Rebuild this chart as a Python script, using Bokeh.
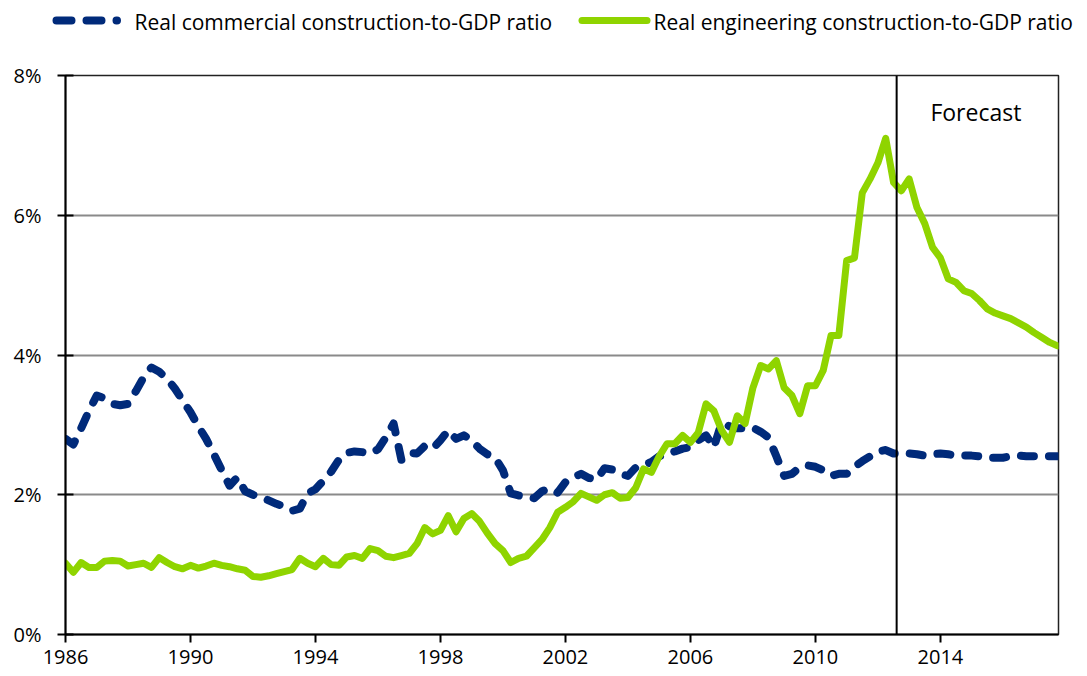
from bokeh.plotting import figure
from bokeh.models import (ColumnDataSource, FixedTicker, PrintfTickFormatter, Span,
                          Label, Range1d)
from bokeh.layouts import column
from bokeh.core.properties import value
from bokeh.embed import file_html
from bokeh.resources import INLINE

# ---------------- data (quarterly, 1986Q1 .. 2017Q4) ----------------
start_year = 1986
commercial = [
    2.80, 2.72, 2.95, 3.20,  # 1986
    3.42, 3.38, 3.30, 3.28,  # 1987
    3.30, 3.48, 3.68, 3.82,  # 1988
    3.76, 3.66, 3.52, 3.35,  # 1989
    3.18, 2.98, 2.80, 2.58,  # 1990
    2.35, 2.13, 2.25, 2.05,  # 1991
    2.00, 1.96, 1.92, 1.87,  # 1992
    1.83, 1.77, 1.80, 2.02,  # 1993
    2.08, 2.20, 2.33, 2.50,  # 1994
    2.60, 2.62, 2.61, 2.59,  # 1995
    2.65, 2.82, 3.02, 2.50,  # 1996
    2.60, 2.59, 2.70, 2.66,  # 1997
    2.78, 2.92, 2.80, 2.85,  # 1998
    2.78, 2.66, 2.58, 2.53,  # 1999
    2.35, 2.02, 1.99, 1.97,  # 2000
    1.95, 2.05, 2.09, 2.03,  # 2001
    2.18, 2.25, 2.30, 2.24,  # 2002
    2.22, 2.38, 2.36, 2.30,  # 2003
    2.27, 2.39, 2.42, 2.47,  # 2004
    2.55, 2.58, 2.62, 2.66,  # 2005
    2.68, 2.78, 2.85, 2.68,  # 2006
    3.03, 2.98, 2.95, 2.95,  # 2007
    2.96, 2.90, 2.82, 2.55,  # 2008
    2.27, 2.30, 2.39, 2.42,  # 2009
    2.40, 2.35, 2.27, 2.30,  # 2010
    2.30, 2.40, 2.48, 2.55,  # 2011
    2.62, 2.64, 2.59, 2.59,  # 2012
    2.59, 2.58, 2.56, 2.58,  # 2013
    2.59, 2.58, 2.56, 2.56,  # 2014
    2.56, 2.55, 2.53, 2.53,  # 2015
    2.53, 2.55, 2.56, 2.55,  # 2016
    2.55, 2.55, 2.55, 2.55,  # 2017
]
engineering = [
    1.02, 0.89, 1.03, 0.96,  # 1986
    0.96, 1.05, 1.06, 1.05,  # 1987
    0.98, 1.00, 1.02, 0.96,  # 1988
    1.10, 1.03, 0.97, 0.94,  # 1989
    0.99, 0.95, 0.98, 1.02,  # 1990
    0.99, 0.97, 0.94, 0.92,  # 1991
    0.83, 0.82, 0.84, 0.87,  # 1992
    0.90, 0.93, 1.09, 1.02,  # 1993
    0.97, 1.09, 1.00, 0.99,  # 1994
    1.11, 1.13, 1.09, 1.23,  # 1995
    1.20, 1.12, 1.10, 1.13,  # 1996
    1.16, 1.30, 1.53, 1.44,  # 1997
    1.49, 1.70, 1.47, 1.66,  # 1998
    1.73, 1.62, 1.45, 1.30,  # 1999
    1.20, 1.03, 1.09, 1.12,  # 2000
    1.24, 1.36, 1.53, 1.75,  # 2001
    1.82, 1.90, 2.02, 1.97,  # 2002
    1.92, 2.00, 2.03, 1.95,  # 2003
    1.96, 2.10, 2.37, 2.32,  # 2004
    2.55, 2.73, 2.73, 2.85,  # 2005
    2.75, 2.89, 3.30, 3.20,  # 2006
    2.92, 2.75, 3.13, 3.02,  # 2007
    3.53, 3.85, 3.80, 3.92,  # 2008
    3.53, 3.42, 3.16, 3.56,  # 2009
    3.56, 3.78, 4.28, 4.28,  # 2010
    5.35, 5.39, 6.32, 6.52,  # 2011
    6.75, 7.10, 6.47, 6.35,  # 2012
    6.52, 6.11, 5.88, 5.54,  # 2013
    5.39, 5.09, 5.04, 4.92,  # 2014
    4.88, 4.78, 4.66, 4.60,  # 2015
    4.56, 4.52, 4.46, 4.40,  # 2016
    4.32, 4.25, 4.18, 4.13,  # 2017
]
years = [start_year + 0.25 * i for i in range(len(commercial))]
x_ticks = [1986, 1990, 1994, 1998, 2002, 2006, 2010, 2014]
y_ticks = [0, 2, 4, 6, 8]
forecast_start = 2012.6
forecast_label = "Forecast"
series_names = ["Real commercial construction-to-GDP ratio",
                "Real engineering construction-to-GDP ratio"]

# ---------------- styling ----------------
FONT = "Open Sans"
NAVY = "#002A7A"
GREEN = "#8FD400"
W = 1087
LEG_H = 36

# ---------------- legend strip (pixel-unit canvas) ----------------
leg = figure(width=W, height=LEG_H, x_range=Range1d(0, W), y_range=Range1d(0, LEG_H),
             min_border=0, output_backend="svg", toolbar_location=None, tools="")
leg.axis.visible = False
leg.grid.visible = False
leg.outline_line_color = None
leg.background_fill_color = "white"
leg.border_fill_color = "white"
leg.line([56, 116.5], [LEG_H - 20, LEG_H - 20], line_color=NAVY, line_width=8,
         line_dash="15 15", line_cap="round")
leg.line([581.5, 646.5], [LEG_H - 20, LEG_H - 20], line_color=GREEN, line_width=7,
         line_cap="round")
leg.text(x=[134, 653], y=[LEG_H - 21, LEG_H - 21], text=series_names,
         text_font=value(FONT), text_font_size="21px", text_baseline="middle",
         text_align="left", text_color="black")

# ---------------- main chart ----------------
src = ColumnDataSource(dict(x=years, com=commercial, eng=engineering))

p = figure(frame_width=993, frame_height=559,
           min_border_left=65, min_border_top=75 - LEG_H, min_border_right=29,
           min_border_bottom=40,
           x_range=Range1d(1986, 2017.78), y_range=Range1d(0, 8),
           output_backend="svg", toolbar_location=None, tools="")

for fig in (leg, p):
    try:
        fig.frame_align = False
    except Exception:
        pass

p.background_fill_color = "white"
p.border_fill_color = "white"
p.outline_line_color = "#222222"
p.outline_line_width = 1.5

p.xgrid.visible = False
p.ygrid.grid_line_color = "#8A8A8A"
p.ygrid.grid_line_width = 2
p.ygrid.ticker = FixedTicker(ticks=y_ticks)

p.xaxis.ticker = FixedTicker(ticks=x_ticks)
p.yaxis.ticker = FixedTicker(ticks=y_ticks)
p.yaxis.formatter = PrintfTickFormatter(format="%d%%")
for ax in (p.xaxis, p.yaxis):
    ax.axis_line_color = "black"
    ax.axis_line_width = 2
    ax.major_tick_line_color = "black"
    ax.major_tick_line_width = 2
    ax.minor_tick_line_color = None
    ax.major_label_text_font = FONT
    ax.major_label_text_font_size = "20px"
    ax.major_label_text_color = "black"
p.yaxis.major_tick_in = 8
p.yaxis.major_tick_out = 8
p.yaxis.major_label_standoff = 16
p.xaxis.major_tick_in = 0
p.xaxis.major_tick_out = 8
p.xaxis.major_label_standoff = 7

p.line("x", "com", source=src, line_color=NAVY, line_width=8,
       line_dash="13 15", line_cap="round", line_join="round")
p.line("x", "eng", source=src, line_color=GREEN, line_width=7,
       line_cap="round", line_join="round")

p.add_layout(Span(location=forecast_start, dimension="height",
                  line_color="black", line_width=2))
p.add_layout(Label(x=2013.68, y=7.7, text=forecast_label, text_baseline="top",
                   text_font=FONT, text_font_size="23px", text_color="black"))

layout = column(leg, p, spacing=0)
open("out.html", "w").write(file_html(layout, INLINE))
